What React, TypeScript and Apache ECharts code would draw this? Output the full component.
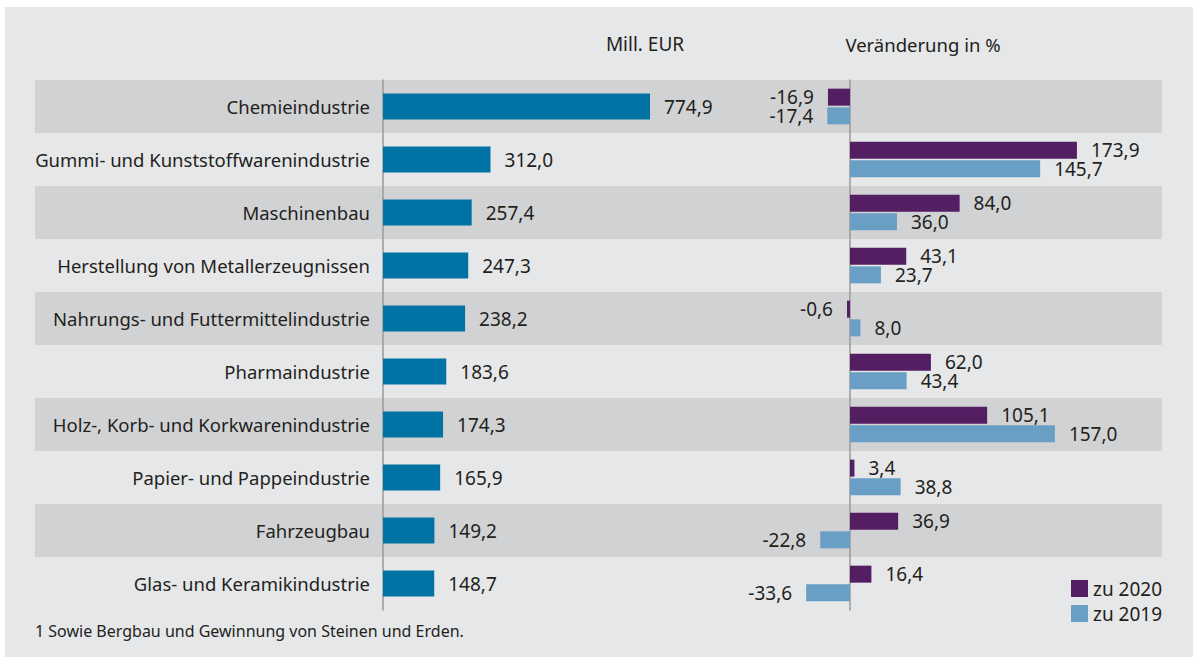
import React, { useEffect, useRef } from "react";
import * as echarts from "echarts";

const categories = [
  "Chemieindustrie",
  "Gummi- und Kunststoffwarenindustrie",
  "Maschinenbau",
  "Herstellung von Metallerzeugnissen",
  "Nahrungs- und Futtermittelindustrie",
  "Pharmaindustrie",
  "Holz-, Korb- und Korkwarenindustrie",
  "Papier- und Pappeindustrie",
  "Fahrzeugbau",
  "Glas- und Keramikindustrie",
];
const millEur = [774.9, 312.0, 257.4, 247.3, 238.2, 183.6, 174.3, 165.9, 149.2, 148.7];
const change2020 = [-16.9, 173.9, 84.0, 43.1, -0.6, 62.0, 105.1, 3.4, 36.9, 16.4];
const change2019 = [-17.4, 145.7, 36.0, 23.7, 8.0, 43.4, 157.0, 38.8, -22.8, -33.6];
const headerLeft = "Mill. EUR";
const headerRight = "Veränderung in %";
const footnote = "1 Sowie Bergbau und Gewinnung von Steinen und Erden.";
const legendNames = ["zu 2020", "zu 2019"];

const FONT = "Noto Sans";
const TEXT = "#231f20";
const fmt = (v: number) => v.toFixed(1).replace(".", ",");

const signed = (arr: number[]) =>
  arr.map((v) => ({
    value: v,
    label: { position: v < 0 ? "left" : "right" },
  }));

export default function App() {
  const ref = useRef<HTMLDivElement>(null);
  useEffect(() => {
    document.body.style.margin = "0";
    const chart = echarts.init(ref.current!, null, { renderer: "svg" });
    const labelBase = {
      show: true,
      distance: 14,
      fontFamily: FONT,
      fontSize: 19,
      lineHeight: 17,
      color: TEXT,
      formatter: (p: any) => fmt(p.value),
    };
    chart.setOption({
      animation: false,
      backgroundColor: "transparent",
      textStyle: { fontFamily: FONT },
      grid: [
        { left: 35, top: 80, width: 1127, height: 530 },
        { left: 383, top: 80, width: 344.6, height: 530 },
        { left: 784.75, top: 80, width: 326.25, height: 530 },
      ],
      xAxis: [
        { type: "value", gridIndex: 0, min: 0, max: 1, show: false },
        { type: "value", gridIndex: 1, min: 0, max: 1000, show: false },
        { type: "value", gridIndex: 2, min: -50, max: 200, show: false },
      ],
      yAxis: [
        {
          type: "category",
          gridIndex: 0,
          data: categories,
          inverse: true,
          axisLine: { show: false },
          axisTick: { show: false },
          axisLabel: { show: false },
          splitLine: { show: false },
          splitArea: { show: true, areaStyle: { color: ["#d1d2d4", "rgba(0,0,0,0)"] } },
        },
        {
          type: "category",
          gridIndex: 1,
          data: categories,
          inverse: true,
          axisLine: { show: true, lineStyle: { color: "#9a9a9a", width: 1.5 } },
          axisTick: { show: false },
          axisLabel: { show: true, margin: 13, fontSize: 18.5, fontFamily: FONT, color: TEXT },
        },
        {
          type: "category",
          gridIndex: 2,
          data: categories,
          inverse: true,
          axisLine: { show: true, onZero: true, lineStyle: { color: "#9a9a9a", width: 1.5 } },
          axisTick: { show: false },
          axisLabel: { show: false },
        },
      ],
      legend: {
        orient: "vertical",
        left: 1066,
        top: 574,
        itemWidth: 17,
        itemHeight: 17,
        itemGap: 6,
        icon: "rect",
        data: legendNames,
        textStyle: { fontFamily: FONT, fontSize: 19, color: TEXT },
      },
      graphic: [
        {
          type: "text",
          x: 645,
          y: 44,
          style: { text: headerLeft, font: `19px "${FONT}"`, fill: TEXT, textAlign: "center", textVerticalAlign: "middle" },
        },
        {
          type: "text",
          x: 923,
          y: 44,
          style: { text: headerRight, font: `18.5px "${FONT}"`, fill: TEXT, textAlign: "center", textVerticalAlign: "middle" },
        },
        {
          type: "text",
          x: 35,
          y: 631,
          style: { text: footnote, font: `16px "${FONT}"`, fill: TEXT, textAlign: "left", textVerticalAlign: "middle" },
        },
      ],
      series: [
        {
          type: "bar",
          name: "Mill. EUR",
          xAxisIndex: 1,
          yAxisIndex: 1,
          data: millEur,
          barWidth: 26,
          itemStyle: { color: "#0073a4" },
          label: { ...labelBase, position: "right" },
        },
        {
          type: "bar",
          name: legendNames[0],
          xAxisIndex: 2,
          yAxisIndex: 2,
          data: signed(change2020),
          barWidth: 17,
          barGap: "10%",
          barMinHeight: 3,
          itemStyle: { color: "#541e62" },
          label: labelBase,
        },
        {
          type: "bar",
          name: legendNames[1],
          xAxisIndex: 2,
          yAxisIndex: 2,
          data: signed(change2019),
          barWidth: 17,
          barGap: "10%",
          barMinHeight: 3,
          itemStyle: { color: "#6a9fc5" },
          label: labelBase,
        },
      ],
    });
    return () => chart.dispose();
  }, []);
  return (
    <div style={{ position: "relative", width: 1193, height: 657, background: "#ffffff" }}>
      <div style={{ position: "absolute", left: 5, top: 7, right: 0, bottom: 0, background: "#e6e7e9" }} />
      <div ref={ref} style={{ position: "absolute", left: 0, top: 0, width: 1193, height: 657 }} />
    </div>
  );
}
